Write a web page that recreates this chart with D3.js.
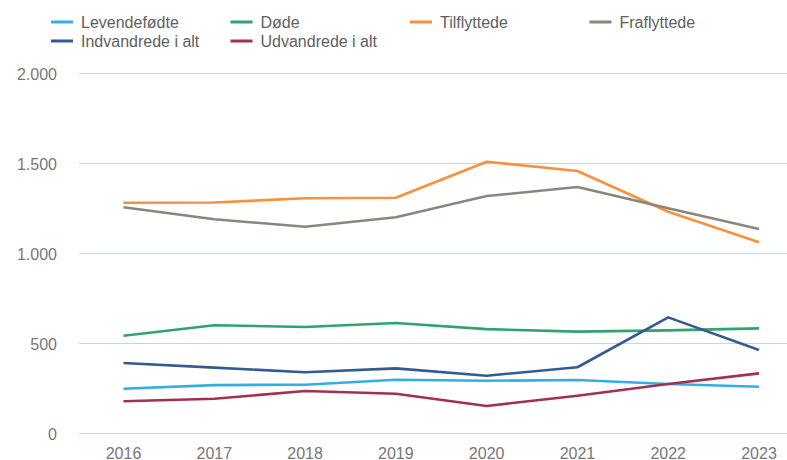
<!DOCTYPE html>
<html>
<head>
<meta charset="utf-8">
<script src="https://cdn.jsdelivr.net/npm/d3@7"></script>
<style>
  html, body { margin: 0; padding: 0; background: #fff; }
  svg { display: block; font-family: "Liberation Sans", Arial, sans-serif; }
</style>
</head>
<body>
<svg id="chart" width="787" height="460"></svg>
<script>
const years = [2016, 2017, 2018, 2019, 2020, 2021, 2022, 2023];
const levendefodte = [249, 269, 271, 299, 293, 297, 275, 260];
const dode = [543, 601, 592, 614, 580, 566, 573, 584];
const tilflyttede = [1282, 1283, 1307, 1310, 1510, 1458, 1232, 1062];
const fraflyttede = [1257, 1190, 1149, 1201, 1319, 1369, 1251, 1136];
const indvandrede = [392, 366, 340, 362, 321, 368, 645, 464];
const udvandrede = [179, 193, 236, 221, 153, 210, 275, 334];
const yTicks = [0, 500, 1000, 1500, 2000];

const seriesNames = ["Levendefødte", "Døde", "Tilflyttede", "Fraflyttede", "Indvandrede i alt", "Udvandrede i alt"];
const seriesValues = [levendefodte, dode, tilflyttede, fraflyttede, indvandrede, udvandrede];
const seriesColors = ["#33ade6", "#2ea56a", "#f7913d", "#88887a", "#355a93", "#a3304f"];

const svg = d3.select("#chart");
const x = d3.scalePoint().domain(years).range([123.5, 759]);
const y = d3.scaleLinear().domain([0, 2000]).range([433.5, 73.5]);
const loc = d3.formatLocale({decimal: ",", thousands: ".", grouping: [3], currency: ["", " kr"]});
const fmt = loc.format(",d");

// gridlines
svg.append("g").selectAll("line").data(yTicks).join("line")
  .attr("x1", 79).attr("x2", 787)
  .attr("y1", d => y(d)).attr("y2", d => y(d))
  .attr("stroke", "#c9d4dd").attr("stroke-width", 1);

// y labels
svg.append("g").selectAll("text").data(yTicks).join("text")
  .attr("x", 57).attr("y", d => y(d) + 6)
  .attr("text-anchor", "end")
  .attr("font-size", 16).attr("fill", "#777")
  .text(d => fmt(d));

// x labels
svg.append("g").selectAll("text").data(years).join("text")
  .attr("x", d => x(d)).attr("y", 458.5)
  .attr("text-anchor", "middle")
  .attr("font-size", 16).attr("fill", "#777")
  .text(d => d);

// lines
const line = d3.line().x((d, i) => x(years[i])).y(d => y(d));
svg.append("g").selectAll("path").data(seriesValues).join("path")
  .attr("d", d => line(d))
  .attr("fill", "none")
  .attr("stroke", (d, i) => seriesColors[i])
  .attr("stroke-width", 2.6)
  .attr("stroke-linejoin", "round");

// legend
const colX = [51, 230.5, 410, 589.5];
const rowY = [22, 41];
const lg = svg.append("g").selectAll("g").data(seriesNames).join("g")
  .attr("transform", (d, i) => `translate(${colX[i % 4]},${rowY[Math.floor(i / 4)]})`);
lg.append("line").attr("x1", 0).attr("x2", 22).attr("y1", 0).attr("y2", 0)
  .attr("stroke", (d, i) => seriesColors[i]).attr("stroke-width", 3);
lg.append("text").attr("x", 30).attr("y", 5.5)
  .attr("font-size", 16).attr("fill", "#606060")
  .text(d => d);
</script>
</body>
</html>
